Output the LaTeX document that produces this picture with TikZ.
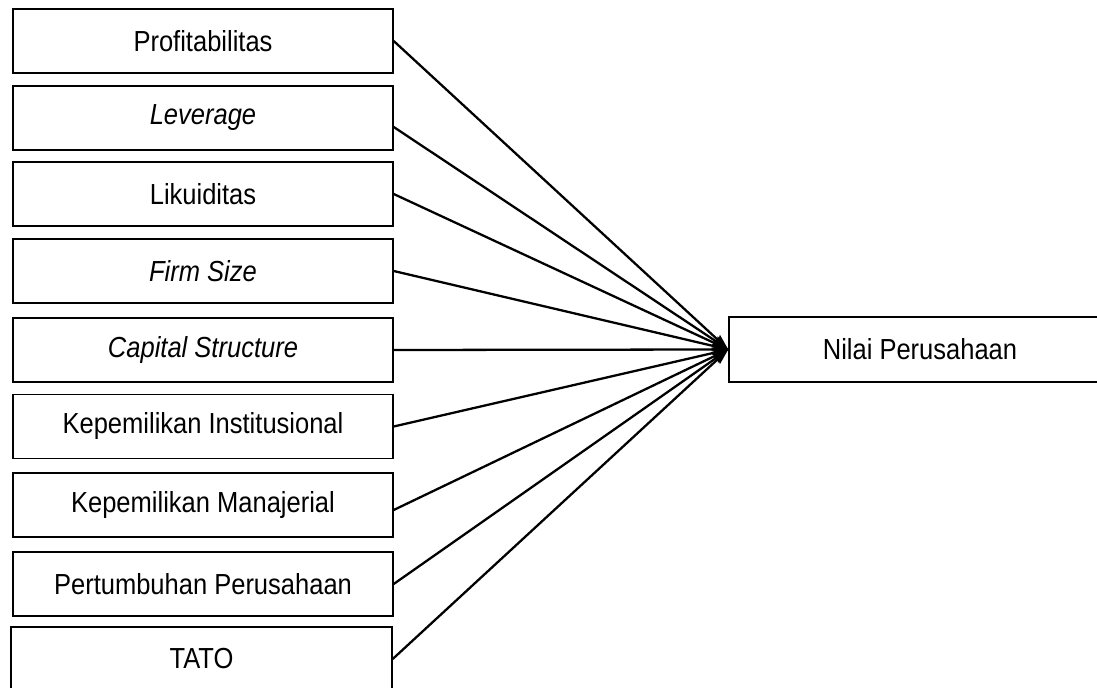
\documentclass[tikz,border=0pt]{standalone}
\usepackage{fontspec}
\setmainfont{Liberation Sans}[FakeStretch=0.88]
\usetikzlibrary{arrows.meta}

\begin{document}
\begin{tikzpicture}[->,>={Stealth[length=0.32cm,width=0.2cm,inset=0.05cm]},
    font=\fontsize{16.5pt}{20pt}\selectfont]

    \useasboundingbox (0,0) rectangle (21.94,13.74);
    \clip (0,0) rectangle (21.94,13.74);

    \node[rectangle,
          draw,
          line width = 0.8pt,
          minimum width = 7.6cm,
          minimum height = 1.28cm
          ] (prof) at (4.06,12.92) {};
    \node[] (profT) at (prof.center) {Profitabilitas};

    \node[rectangle,
          draw,
          line width = 0.8pt,
          minimum width = 7.6cm,
          minimum height = 1.28cm
          ] (lev) at (4.06,11.38) {};
    \node[] (levT) at (lev.center) {\itshape Leverage};

    \node[rectangle,
          draw,
          line width = 0.8pt,
          minimum width = 7.6cm,
          minimum height = 1.28cm
          ] (likuid) at (4.06,9.86) {};
    \node[] (likuidT) at (likuid.center) {Likuiditas};

    \node[rectangle,
          draw,
          line width = 0.8pt,
          minimum width = 7.6cm,
          minimum height = 1.28cm
          ] (size) at (4.06,8.32) {};
    \node[] (sizeT) at (size.center) {\itshape Firm Size};

    \node[rectangle,
          draw,
          line width = 0.8pt,
          minimum width = 7.6cm,
          minimum height = 1.28cm
          ] (cap) at (4.06,6.74) {};
    \node[] (capT) at (cap.center) {\itshape Capital Structure};

    \node[rectangle,
          draw,
          line width = 0.8pt,
          minimum width = 7.6cm,
          minimum height = 1.28cm
          ] (kinst) at (4.06,5.21) {};
    \node[] (kinstT) at (kinst.center) {Kepemilikan Institusional};

    \node[rectangle,
          draw,
          line width = 0.8pt,
          minimum width = 7.6cm,
          minimum height = 1.28cm
          ] (kman) at (4.06,3.64) {};
    \node[] (kmanT) at (kman.center) {Kepemilikan Manajerial};

    \node[rectangle,
          draw,
          line width = 0.8pt,
          minimum width = 7.6cm,
          minimum height = 1.28cm
          ] (tumbuh) at (4.06,2.06) {};
    \node[] (tumbuhT) at (tumbuh.center) {Pertumbuhan Perusahaan};

    \node[rectangle,
          draw,
          line width = 0.8pt,
          minimum width = 7.62cm,
          minimum height = 1.28cm
          ] (tato) at (4.03,0.56) {};
    \node[] (tatoT) at (tato.center) {TATO};

    \node[rectangle,
          draw,
          line width = 0.8pt,
          minimum width = 7.64cm,
          minimum height = 1.3cm
          ] (nilai) at (18.4,6.75) {};
    \node[] (nilaiT) at (nilai.center) {Nilai Perusahaan};

    \path[line width = 1.3pt]
    (prof.east) edge [] (nilai.west)
    ([yshift=-0.18cm]lev.east) edge [] (nilai.west)
    (likuid.east) edge [] (nilai.west)
    (size.east) edge [] (nilai.west)
    (cap.east) edge [] (nilai.west)
    (kinst.east) edge [] (nilai.west)
    ([yshift=-0.1cm]kman.east) edge [] (nilai.west)
    (tumbuh.east) edge [] (nilai.west)
    (tato.east) edge [] (nilai.west) ;

\end{tikzpicture}
\end{document}
